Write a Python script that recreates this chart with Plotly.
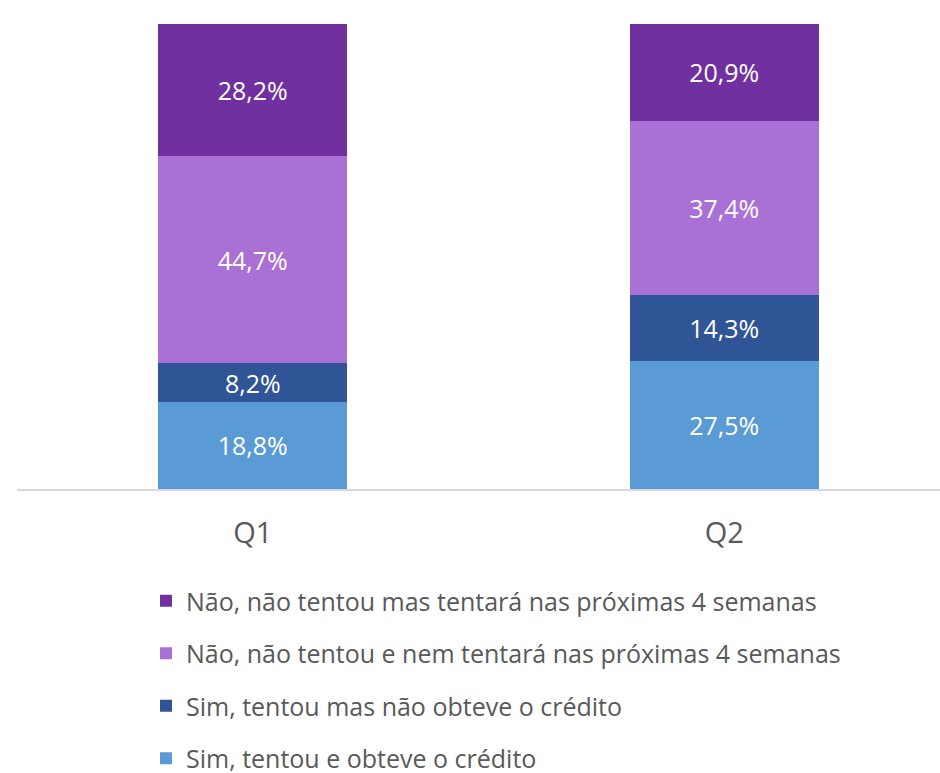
import plotly.graph_objects as go

# Quarters and answer shares (%), bottom segment first
quarters = ['Q1', 'Q2']
series_names = [
    'Sim, tentou e obteve o crédito',
    'Sim, tentou mas não obteve o crédito',
    'Não, não tentou e nem tentará nas próximas 4 semanas',
    'Não, não tentou mas tentará nas próximas 4 semanas',
]
obteve = [18.8, 27.5]
nao_obteve = [8.2, 14.3]
nem_tentara = [44.7, 37.4]
tentara = [28.2, 20.9]

series_values = [obteve, nao_obteve, nem_tentara, tentara]
colors = ['#5B9BD5', '#2F5597', '#A970D6', '#7030A0']

FONT = 'Open Sans'
GRAY = '#595959'

fig = go.Figure()
for i, (name, vals) in enumerate(zip(series_names, series_values)):
    fig.add_trace(go.Bar(
        x=quarters,
        y=vals,
        name=name,
        legendgroup=str(i),
        legendrank=len(series_names) - i,  # top segment listed first
        marker=dict(color=colors[i], line=dict(width=0)),
        width=0.4,
        texttemplate='%{y:.1f}%',
        textposition='inside',
        insidetextanchor='middle',
        textangle=0,
        textfont=dict(family=FONT, size=25, color='white'),
        hoverinfo='skip',
    ))

fig.update_layout(
    width=940,
    height=773,
    barmode='stack',
    separators=',.',
    plot_bgcolor='white',
    paper_bgcolor='white',
    margin=dict(l=17, r=0, t=24, b=284, autoexpand=False),
    font=dict(family=FONT, color=GRAY),
    # keep the small 8,2% label the same size as the others
    uniformtext=dict(mode='show', minsize=25),
    xaxis=dict(
        range=[-0.5, 1.4576],
        showline=True,
        linecolor='#D9D9D9',
        linewidth=2,
        showgrid=False,
        tickfont=dict(size=29, color=GRAY),
        ticklabelstandoff=17,
        fixedrange=True,
    ),
    yaxis=dict(
        range=[0, 100],
        visible=False,
        showgrid=False,
        fixedrange=True,
    ),
    legend=dict(
        xref='container',
        yref='container',
        x=146 / 940,
        y=1 - 578 / 773,
        xanchor='left',
        yanchor='top',
        traceorder='grouped',
        tracegroupgap=17,
        font=dict(size=25, color=GRAY),
    ),
    showlegend=True,
)

# drop the browser's default body margin so the figure sits at the page corner
fig.write_html('out.html', config={'displayModeBar': False},
               post_script="document.body.style.margin='0';")
